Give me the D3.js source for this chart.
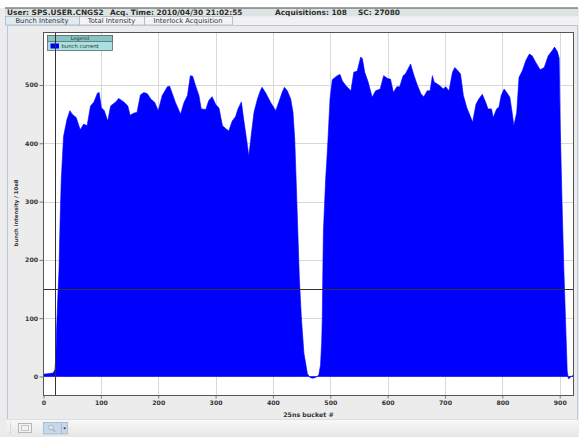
<!DOCTYPE html>
<html>
<head>
<meta charset="utf-8">
<script src="https://cdn.jsdelivr.net/npm/d3@7/dist/d3.min.js"></script>
<style>
  body { margin: 0; background: #fff; }
  svg { display: block; font-family: "DejaVu Sans", sans-serif; }
</style>
</head>
<body>
<div id="chart"></div>
<script>
// --- data ---
const headerItems = ["User: SPS.USER.CNGS2", "Acq. Time: 2010/04/30 21:02:55", "Acquisitions: 108", "SC: 27080"];
const tabNames = ["Bunch Intensity", "Total Intensity", "Interlock Acquisition"];
const seriesName = "bunch current";
const xLabel = "25ns bucket #";
const yLabel = "bunch intensity / 10e8";
const xTicks = [0, 100, 200, 300, 400, 500, 600, 700, 800, 900];
const yTicks = [0, 100, 200, 300, 400, 500];
const markerBucket = 20;   // vertical cursor
const markerLevel = 150;   // horizontal threshold

const buckets = [
  0, 10, 17, 20, 21.5, 22.7, 25, 27, 29, 31, 35, 41, 46, 50, 57, 64, 70, 76, 82, 88,
  94, 97, 101, 106, 112, 117, 126, 131, 140, 147, 151, 158, 163, 169, 175, 181, 187, 194, 200, 207,
  216, 220, 230, 239, 245, 251, 256, 260, 265, 271, 275, 283, 288, 294, 300, 306, 312, 318, 323, 329,
  335, 339, 345, 349, 354, 358, 362, 367, 373, 378, 381, 387, 396, 405, 410, 416, 420, 425, 431, 435,
  438, 440, 443, 446, 449.5, 454, 460, 465, 470, 476, 480, 483, 485, 486, 487, 488, 492, 494, 496, 499.5,
  503.5, 512, 517, 521, 527, 533, 536, 541, 547, 553, 556, 560, 566, 573, 579, 587, 593, 600, 605, 610,
  616, 621, 627, 631, 640, 646, 652, 658, 663, 669, 674, 678, 681, 686, 692, 697, 701, 707, 713, 717,
  722, 727, 732, 738, 745, 748, 754, 759, 765, 771, 775, 781, 784, 790, 794, 798, 803, 807, 813, 817,
  820, 825, 829, 835, 841, 847, 852, 858, 866, 873, 880, 887, 891, 896, 899, 901, 904, 907, 910, 913,
  915, 918, 921, 924
];
const intensity = [
  4, 5, 6, 12, 33, 79, 137, 183, 270, 338, 412, 441, 456, 450, 444, 423, 433, 430, 464, 471,
  486, 487, 461, 456, 438, 464, 471, 477, 471, 464, 448, 452, 453, 483, 487, 485, 476, 470, 456, 482,
  497, 498, 470, 450, 470, 482, 516, 515, 499, 482, 459, 458, 473, 480, 467, 460, 430, 425, 421, 438,
  446, 459, 471, 441, 407, 378, 413, 453, 476, 490, 496, 487, 470, 456, 470, 487, 496, 490, 476, 453,
  407, 350, 260, 170, 102, 40, 5, -2, -3, -1, 3, 20, 60, 100, 180, 250, 340, 372, 407, 476,
  509, 516, 518, 507, 499, 493, 490, 522, 524, 548, 545, 522, 505, 479, 490, 493, 516, 511, 510, 487,
  497, 497, 516, 519, 536, 516, 499, 485, 480, 490, 490, 516, 505, 502, 498, 493, 497, 490, 522, 530,
  525, 519, 482, 461, 444, 436, 467, 476, 484, 470, 459, 459, 444, 459, 462, 482, 493, 488, 479, 453,
  430, 453, 513, 525, 542, 553, 550, 539, 526, 530, 550, 559, 565, 557, 546, 424, 300, 190, 100, 10,
  -4, -2, 1, 2
];

// --- layout ---
const W = 579, H = 437;
const plot = { left: 43.5, top: 32.5, right: 573.5, bottom: 395.5 };

const svg = d3.select("#chart").append("svg")
  .attr("width", W).attr("height", H);

// window chrome
svg.append("rect").attr("width", W).attr("height", H).attr("fill", "#ececec");
svg.append("rect").attr("width", W).attr("height", 8).attr("fill", "#fff");

// status header
svg.append("rect").attr("x", 5).attr("y", 8).attr("width", 573).attr("height", 8.5)
  .attr("fill", "#dde3e3");
svg.append("line").attr("x1", 5).attr("x2", 578).attr("y1", 8).attr("y2", 8)
  .attr("stroke", "#4a4a4a").attr("stroke-width", 1.2);
const headerX = [7, 110, 275, 358];
svg.append("g").selectAll("text").data(headerItems).join("text")
  .attr("x", (d, i) => headerX[i]).attr("y", 15)
  .attr("font-size", 7.4).attr("font-weight", "bold").attr("fill", "#2e2e2e")
  .text(d => d);

// tabs
const tabX = [5, 79, 144], tabW = [74, 65, 88];
svg.append("rect").attr("x", 5).attr("y", 16.5).attr("width", 573).attr("height", 8.5).attr("fill", "#f1f1f1");
const tabs = svg.append("g").selectAll("g").data(tabNames).join("g")
  .attr("transform", (d, i) => `translate(${tabX[i]},16.5)`);
tabs.append("rect")
  .attr("x", 0.5).attr("width", (d, i) => tabW[i]).attr("height", 8.5)
  .attr("fill", (d, i) => i === 0 ? "#e3eaef" : "#f4f4f4")
  .attr("stroke", "#a9b6c2").attr("stroke-width", 0.8);
tabs.append("text")
  .attr("x", (d, i) => tabW[i] / 2).attr("y", 6.6)
  .attr("text-anchor", "middle").attr("font-size", 6.8).attr("fill", "#333")
  .text(d => d);

// panel border
svg.append("rect").attr("x", 7.5).attr("y", 25.5).attr("width", 570).attr("height", 394)
  .attr("fill", "none").attr("stroke", "#b8c9dc").attr("stroke-width", 1);

// scales
const x = d3.scaleLinear().domain([0, 924]).range([plot.left, plot.right]);
const y = d3.scaleLinear().domain([-32.6, 590]).range([plot.bottom, plot.top]);

svg.append("rect")
  .attr("x", plot.left).attr("y", plot.top)
  .attr("width", plot.right - plot.left).attr("height", plot.bottom - plot.top)
  .attr("fill", "#fff");

svg.append("defs").append("clipPath").attr("id", "clip")
  .append("rect")
  .attr("x", plot.left).attr("y", plot.top)
  .attr("width", plot.right - plot.left).attr("height", plot.bottom - plot.top);

// grid
const grid = svg.append("g").attr("stroke", "#d8d8d8").attr("stroke-width", 1);
grid.selectAll("line.gx").data(xTicks.slice(1)).join("line").attr("class", "gx")
  .attr("x1", d => Math.round(x(d)) + 0.5).attr("x2", d => Math.round(x(d)) + 0.5)
  .attr("y1", plot.top).attr("y2", plot.bottom);
grid.selectAll("line.gy").data(yTicks).join("line").attr("class", "gy")
  .attr("x1", plot.left).attr("x2", plot.right)
  .attr("y1", d => Math.round(y(d)) + 0.5).attr("y2", d => Math.round(y(d)) + 0.5);

// bunch profile
const points = buckets.map((b, i) => ({ b: b, v: intensity[i] }));
const area = d3.area()
  .x(d => x(d.b))
  .y0(y(0))
  .y1(d => y(d.v));
svg.append("path")
  .datum(points)
  .attr("clip-path", "url(#clip)")
  .attr("d", area)
  .attr("fill", "#0000ff")
  .attr("stroke", "#0000ff")
  .attr("stroke-width", 0.6);

// legend
const lg = svg.append("g").attr("transform", "translate(47.5,35.5)");
lg.append("rect").attr("width", 65).attr("height", 15).attr("fill", "#a9e0e0").attr("stroke", "#5c6c6c").attr("stroke-width", 0.8);
lg.append("rect").attr("width", 65).attr("height", 6).attr("fill", "#86c4c6").attr("stroke", "#5c6c6c").attr("stroke-width", 0.8);
lg.append("text").attr("x", 32.5).attr("y", 4.8).attr("text-anchor", "middle")
  .attr("font-size", 5).attr("fill", "#333").text("Legend");
lg.append("rect").attr("x", 3).attr("y", 8).attr("width", 8.5).attr("height", 5).attr("fill", "#0000ff");
lg.append("text").attr("x", 14).attr("y", 12.6)
  .attr("font-size", 5.3).attr("fill", "#333").text(seriesName);

// cursor / threshold lines
svg.append("line")
  .attr("x1", Math.round(x(markerBucket)) + 0.5).attr("x2", Math.round(x(markerBucket)) + 0.5)
  .attr("y1", plot.top).attr("y2", plot.bottom)
  .attr("stroke", "#333").attr("stroke-width", 1);
svg.append("line")
  .attr("x1", plot.left).attr("x2", plot.right)
  .attr("y1", Math.round(y(markerLevel)) + 0.5).attr("y2", Math.round(y(markerLevel)) + 0.5)
  .attr("stroke", "#333").attr("stroke-width", 1);

// frame
svg.append("rect")
  .attr("x", plot.left).attr("y", plot.top)
  .attr("width", plot.right - plot.left).attr("height", plot.bottom - plot.top)
  .attr("fill", "none").attr("stroke", "#555").attr("stroke-width", 1);

// axes
const styleAxis = g => {
  g.select(".domain").remove();
  g.selectAll(".tick line").attr("stroke", "#777");
  g.selectAll(".tick text").attr("font-size", 6.2).attr("font-weight", "bold")
    .attr("fill", "#333").attr("font-family", "DejaVu Sans, sans-serif");
};
svg.append("g")
  .attr("transform", `translate(${plot.left},0)`)
  .call(d3.axisLeft(y).tickValues(yTicks).tickSize(4).tickPadding(1.5))
  .call(styleAxis);
svg.append("g")
  .attr("transform", `translate(0,${plot.bottom})`)
  .call(d3.axisBottom(x).tickValues(xTicks).tickSize(3).tickPadding(2.5))
  .call(styleAxis);

svg.append("text")
  .attr("x", (plot.left + plot.right) / 2).attr("y", 417)
  .attr("text-anchor", "middle").attr("font-size", 6.3).attr("font-weight", "bold")
  .attr("fill", "#333").text(xLabel);
svg.append("text")
  .attr("transform", `translate(17.5,${(plot.top + plot.bottom) / 2 - 1}) rotate(-90)`)
  .attr("text-anchor", "middle").attr("font-size", 5.3).attr("font-weight", "bold")
  .attr("fill", "#333").text(yLabel);

// toolbar
const grad = svg.select("defs").append("linearGradient").attr("id", "tb")
  .attr("x1", 0).attr("y1", 0).attr("x2", 0).attr("y2", 1);
grad.append("stop").attr("offset", 0).attr("stop-color", "#f8f8f8");
grad.append("stop").attr("offset", 1).attr("stop-color", "#e6e6e6");
svg.append("rect").attr("x", 7).attr("y", 419.5).attr("width", 571).attr("height", 18).attr("fill", "url(#tb)");
svg.append("line").attr("x1", 10.5).attr("x2", 10.5).attr("y1", 422).attr("y2", 434)
  .attr("stroke", "#c4c4c4").attr("stroke-dasharray", "1,1");
// fit button
svg.append("rect").attr("x", 18.5).attr("y", 423.5).attr("width", 13).attr("height", 9)
  .attr("fill", "#f2f2f2").attr("stroke", "#a8a8a8").attr("stroke-width", 0.8);
svg.append("rect").attr("x", 21.5).attr("y", 425.5).attr("width", 7).attr("height", 5)
  .attr("fill", "none").attr("stroke", "#777").attr("stroke-width", 0.7).attr("stroke-dasharray", "1,1");
// zoom button
svg.append("rect").attr("x", 43.5).attr("y", 422.5).attr("width", 24).attr("height", 11.5)
  .attr("fill", "#c6d9ea").attr("stroke", "#9fb7cc").attr("stroke-width", 0.8);
svg.append("line").attr("x1", 61.5).attr("x2", 61.5).attr("y1", 423).attr("y2", 434)
  .attr("stroke", "#9fb7cc").attr("stroke-width", 0.8);
svg.append("circle").attr("cx", 51).attr("cy", 427.5).attr("r", 2.3)
  .attr("fill", "#e4e8ec").attr("stroke", "#9aa3ab").attr("stroke-width", 0.7);
svg.append("line").attr("x1", 52.8).attr("x2", 55).attr("y1", 429.3).attr("y2", 431.5)
  .attr("stroke", "#8a939b").attr("stroke-width", 1);
svg.append("path").attr("d", "M63.2,427.6 L66.2,427.6 L64.7,429.4 Z").attr("fill", "#333");
</script>
</body>
</html>
